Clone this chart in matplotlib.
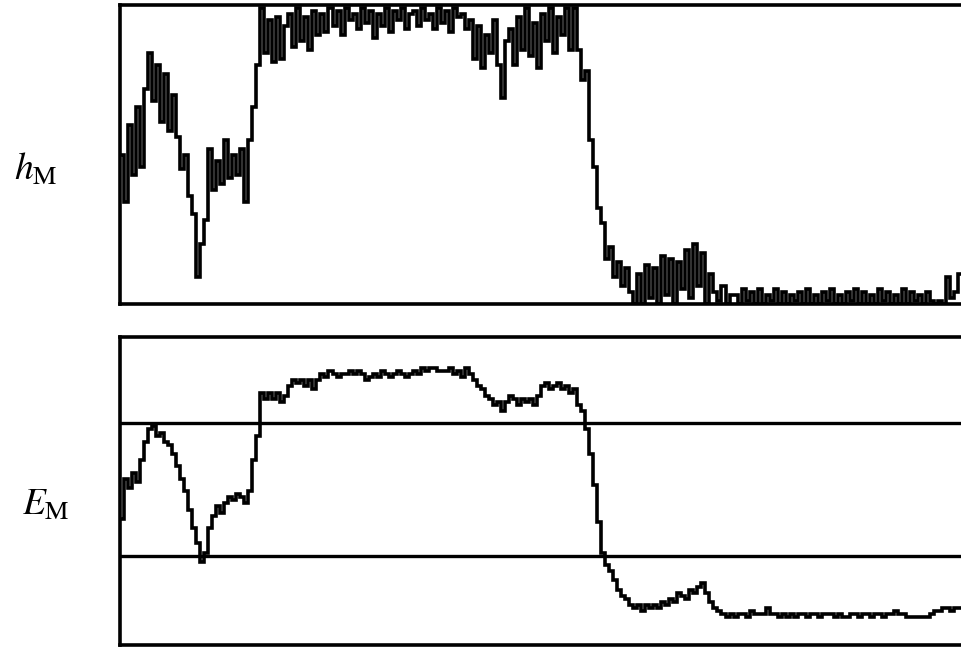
import numpy as np
import matplotlib
matplotlib.use("Agg")
from matplotlib import pyplot as plt

plt.rcParams['mathtext.fontset'] = 'stix'

# raw per-sample magnitude h_M (percent of panel height)
h_m = [50, 34, 60, 43, 66, 46, 72, 84, 68, 80,
       61, 77, 58, 70, 56, 45, 50, 36, 30, 9,
       20, 28, 52, 38, 48, 40, 55, 42, 50, 43,
       52, 34, 55, 66, 80, 99, 84, 95, 81, 96,
       82, 93, 97, 86, 99, 88, 96, 85, 98, 90,
       97, 91, 99, 93, 98, 90, 99, 95, 97, 92,
       99, 94, 98, 89, 97, 93, 99, 91, 98, 95,
       99, 92, 97, 98, 93, 99, 95, 97, 92, 99,
       94, 98, 91, 99, 96, 97, 92, 95, 82, 93,
       79, 90, 84, 95, 80, 69, 88, 92, 80, 96,
       85, 99, 83, 94, 79, 97, 88, 99, 84, 96,
       90, 99, 85, 99, 85, 75, 78, 55, 46, 32,
       27, 15, 19, 9, 14, 6, 12, 4, 0, 10,
       0, 13, 2, 12, 0, 16, 3, 15, 0, 14,
       5, 18, 2, 20, 6, 17, 0, 10, 4, 1,
       6, 0, 3, 3, 0, 5, 1, 4, 0, 5,
       0, 3, 1, 5, 0, 4, 0, 3, 1, 4,
       0, 5, 0, 3, 0, 4, 1, 5, 0, 3,
       0, 4, 1, 5, 0, 4, 0, 3, 0, 5,
       1, 4, 0, 3, 0, 5, 0, 4, 1, 3,
       0, 4, 1, 0, 1, 0, 9, 2, 4, 10,
       6]

# smoothed energy E_M (percent of panel height)
e_m = [41, 54, 51, 56, 53, 60, 66, 70, 71, 68,
       69, 66, 65, 62, 58, 54, 50, 44, 38, 33,
       27, 30, 38, 42, 45, 43, 46, 48, 47, 49,
       48, 46, 50, 60, 68, 82, 80, 82, 80, 82,
       79, 81, 84, 86, 85, 86, 84, 86, 83, 86,
       88, 87, 89, 88, 87, 88, 88, 89, 88, 89,
       88, 86, 87, 88, 87, 89, 88, 87, 88, 89,
       88, 87, 88, 89, 88, 90, 89, 90, 90, 89,
       89, 89, 90, 88, 89, 87, 90, 88, 86, 84,
       83, 81, 80, 78, 79, 76, 79, 81, 80, 78,
       80, 79, 80, 78, 81, 84, 85, 83, 84, 85,
       83, 84, 82, 83, 78, 76, 70, 62, 52, 40,
       30, 26, 24, 21, 18, 16, 15, 13, 12, 13,
       11, 13, 12, 13, 12, 14, 13, 15, 14, 17,
       16, 15, 18, 17, 19, 20, 17, 14, 12, 11,
       10, 9, 10, 9, 10, 10, 9, 11, 10, 10,
       10, 12, 10, 10, 9, 10, 9, 10, 9, 10,
       10, 9, 10, 10, 9, 10, 10, 10, 9, 10,
       9, 9, 10, 10, 9, 10, 10, 9, 10, 10,
       9, 10, 10, 11, 10, 10, 9, 9, 9, 9,
       9, 9, 10, 11, 11, 12, 12, 11, 12, 12,
       12]

# decision thresholds on E_M
thresholds = [72, 29]

fig = plt.figure(figsize=(9.62, 6.47), dpi=100)
ax1 = fig.add_axes([0.1247, 0.530, 0.8775, 0.4623])
ax2 = fig.add_axes([0.1247, 0.003, 0.8775, 0.476])

x1 = np.arange(len(h_m))
x2 = np.arange(len(e_m))

ax1.plot(x1, h_m, color="black", lw=2.6, drawstyle="steps-mid", solid_joinstyle="miter")
ax2.plot(x2, e_m, color="black", lw=2.6, drawstyle="steps-mid", solid_joinstyle="miter")
for t in thresholds:
    ax2.axhline(t, color="black", lw=2.4)

for ax in (ax1, ax2):
    ax.set_xlim(-0.5, 210)
    ax.set_ylim(0, 100)
    ax.set_xticks([])
    ax.set_yticks([])
    ax.spines["right"].set_visible(False)
    for s in ("left", "top", "bottom"):
        ax.spines[s].set_linewidth(2.6)

fig.text(0.0374, 0.7218, r"$h_{\mathrm{M}}$", fontsize=27, ha="center", va="baseline")
fig.text(0.0478, 0.204, r"$E_{\mathrm{M}}$", fontsize=27, ha="center", va="baseline")

fig.savefig("out.png", dpi=100)
